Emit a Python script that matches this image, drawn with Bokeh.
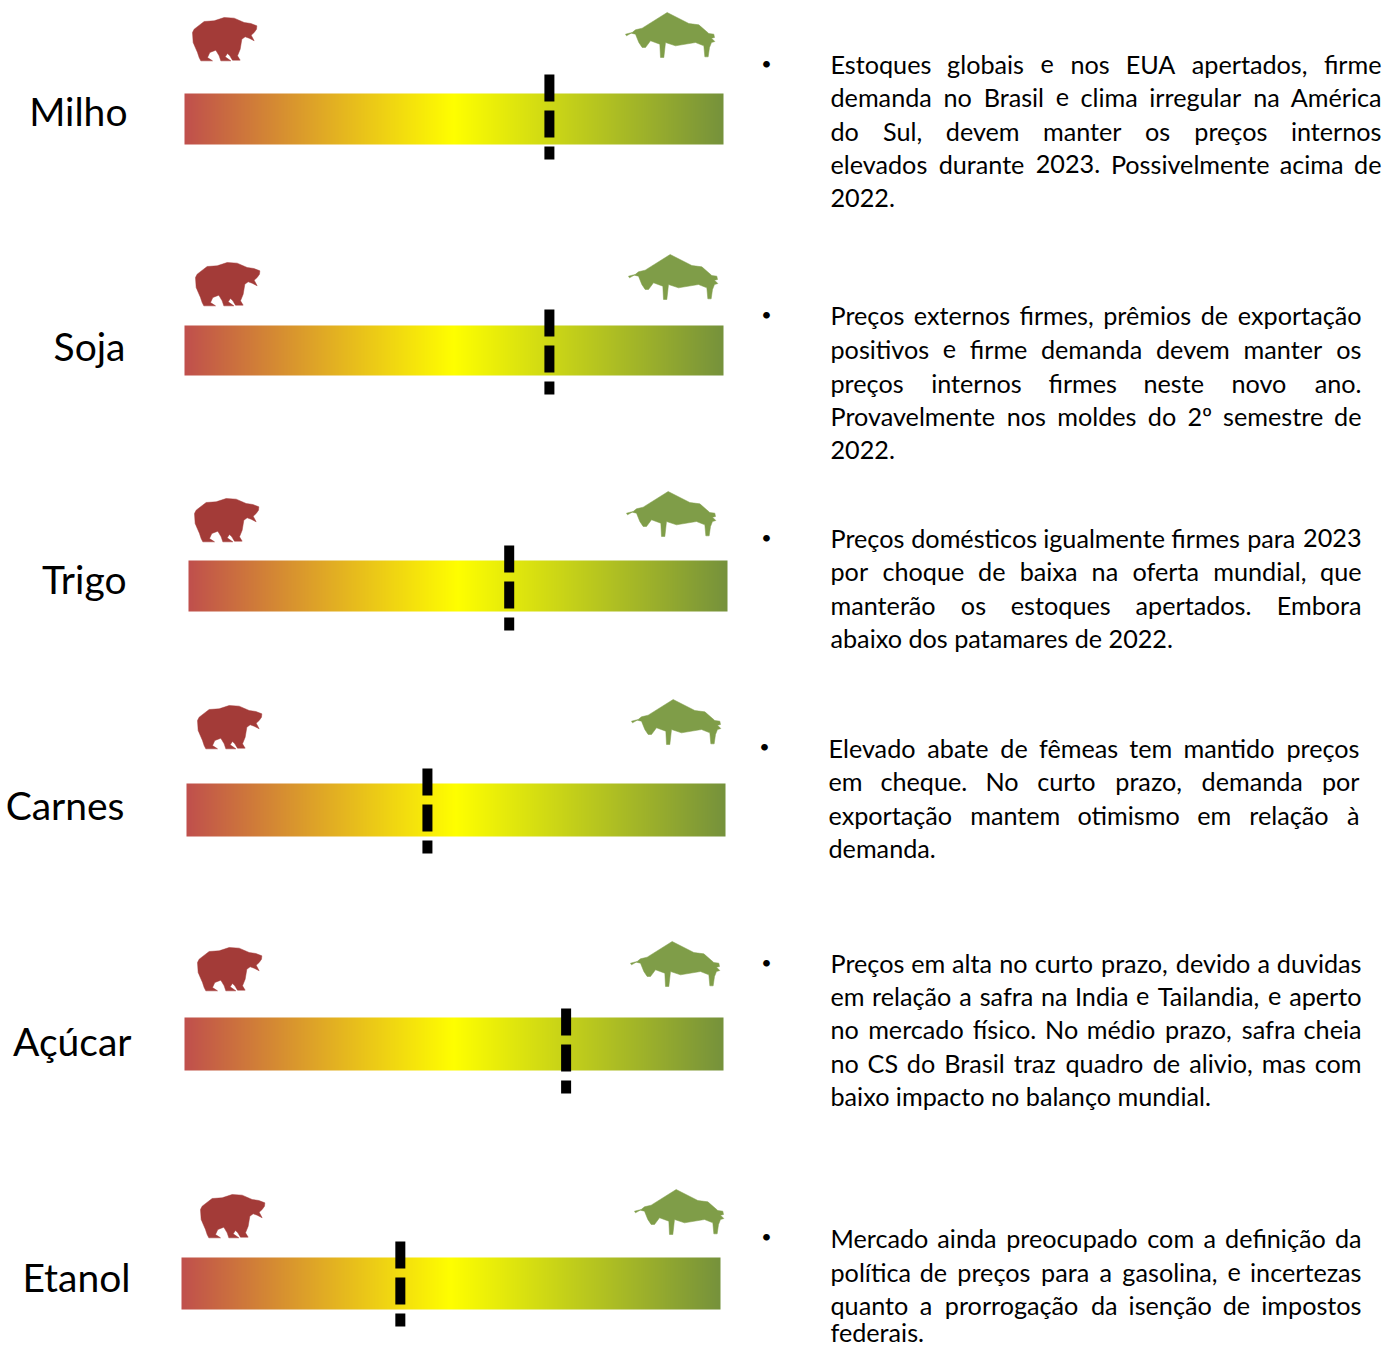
from bokeh.core.properties import value
from bokeh.embed import file_html
from bokeh.models import Range1d
from bokeh.plotting import figure
from bokeh.resources import INLINE
import numpy as np

# ---- content -------------------------------------------------------------
categories = ["Milho", "Soja", "Trigo", "Carnes", "Açúcar", "Etanol"]
sentiment = [0.677, 0.677, 0.595, 0.447, 0.708, 0.406]   # 0 = bear, 1 = bull
commentary = [
    ["Estoques globais e nos EUA apertados, firme",
     "demanda no Brasil e clima irregular na América",
     "do Sul, devem manter os preços internos",
     "elevados durante 2023. Possivelmente acima de",
     "2022."],
    ["Preços externos firmes, prêmios de exportação",
     "positivos e firme demanda devem manter os",
     "preços internos firmes neste novo ano.",
     "Provavelmente nos moldes do 2º semestre de",
     "2022."],
    ["Preços domésticos igualmente firmes para 2023",
     "por choque de baixa na oferta mundial, que",
     "manterão os estoques apertados. Embora",
     "abaixo dos patamares de 2022."],
    ["Elevado abate de fêmeas tem mantido preços",
     "em cheque. No curto prazo, demanda por",
     "exportação mantem otimismo em relação à",
     "demanda."],
    ["Preços em alta no curto prazo, devido a duvidas",
     "em relação a safra na India e Tailandia, e aperto",
     "no mercado físico. No médio prazo, safra cheia",
     "no CS do Brasil traz quadro de alivio, mas com",
     "baixo impacto no balanço mundial."],
    ["Mercado ainda preocupado com a definição da",
     "política de preços para a gasolina, e incertezas",
     "quanto a prorrogação da isenção de impostos",
     "federais."],
]

# ---- layout (page pixels) ---------------------------------------------------
bar_left = [184, 184, 188, 186, 184, 181]
bar_top = [93, 325, 560, 783, 1017, 1257]
bar_bottom = [144, 375, 611, 836, 1070, 1309]
bar_width = 539
marker_top = [74, 309, 545, 768, 1008, 1241]
marker_len = 85
label_right = [127, 125, 126, 124, 131, 130]
label_y = [110, 345, 578, 804, 1040, 1276]
bear_xy = [(192, 17), (195, 262), (194, 498), (197, 705), (197, 947), (200, 1194)]
bull_xy = [(625, 12), (628, 254), (626, 491), (631, 699), (630, 941), (634, 1189)]
bullet_xy = [(766, 62), (766, 313), (766, 536), (764, 745), (766, 961), (766, 1235)]
text_left = [830, 830, 830, 828, 830, 830]
text_right = [1381, 1361, 1361, 1359, 1361, 1361]
text_y = [[63, 96, 130, 163, 197], [314, 348, 382, 415, 449], [537, 570, 604, 637],
         [747, 780, 814, 847], [962, 995, 1028, 1062, 1095], [1237, 1271, 1304, 1331]]

RED, YEL, GRN = (192, 80, 77), (255, 255, 0), (118, 146, 60)
BEAR_COLOR, BULL_COLOR = "#A33B38", "#7F9D48"
TEXT_FONT = "Lato"
BODY_PX = 25.2
LABEL_PX = 39.0

# icon outlines, relative to their top-left corner (3x-scaled units)
bear_shape = [(70, 95), (75, 85), (105, 62), (135, 60), (165, 50), (195, 52), (225, 65), (245, 68),
              (263, 75), (262, 85), (255, 95), (246, 103), (255, 120), (240, 112), (228, 108),
              (218, 115), (213, 145), (205, 165), (213, 178), (190, 178), (182, 165), (175, 158),
              (168, 168), (185, 180), (155, 180), (150, 165), (140, 148), (122, 155), (115, 170),
              (130, 180), (95, 180), (90, 170), (85, 155), (72, 125)]
bull_shape = [(45, 100), (65, 95), (75, 87), (95, 82), (170, 35), (235, 68), (265, 72), (295, 98),
              (310, 100), (312, 110), (303, 112), (313, 122), (303, 125), (297, 140), (293, 168),
              (283, 168), (280, 135), (255, 125), (195, 135), (165, 125), (160, 170), (150, 170),
              (148, 130), (120, 120), (105, 140), (95, 140), (85, 125), (75, 100), (62, 97), (48, 105)]

# approximate advance widths of the text face, in em
ADV = {"a": .50, "b": .56, "c": .46, "ç": .46, "d": .56, "e": .52, "f": .33, "g": .51, "h": .55,
       "i": .23, "í": .23, "j": .24, "k": .51, "l": .23, "m": .81, "n": .55, "o": .58, "p": .56,
       "q": .56, "r": .37, "s": .43, "t": .35, "u": .55, "v": .51, "w": .77, "x": .50, "y": .51,
       "z": .46, "é": .52, "ê": .52, "á": .50, "à": .50, "ã": .50, "õ": .58, "ó": .58, "ú": .55,
       ".": .25, ",": .25, "º": .38, "E": .55, "M": .88, "N": .72, "P": .57, "C": .64, "U": .70,
       "A": .67, "S": .53, "B": .62, "T": .55, "I": .26}


def word_w(word):
    return sum(ADV.get(ch, .58) for ch in word) * BODY_PX


W, H = 1395, 1347
p = figure(width=W, height=H, output_backend="svg", toolbar_location=None,
           x_range=Range1d(0, W), y_range=Range1d(H, 0), min_border=0)
p.axis.visible = False
p.grid.visible = False
p.outline_line_color = None

ramp = np.linspace(0, 1, bar_width)
stops = np.array([RED, YEL, GRN], dtype=float)
rgba = np.zeros((1, bar_width), dtype=np.uint32)
view = rgba.view(np.uint8).reshape((1, bar_width, 4))
for c in range(3):
    view[0, :, c] = np.interp(ramp, [0, .5, 1], stops[:, c]).astype(np.uint8)
view[0, :, 3] = 255

for i, name in enumerate(categories):
    p.image_rgba(image=[rgba], x=bar_left[i], y=bar_top[i], dw=bar_width,
                 dh=bar_bottom[i] - bar_top[i])
    mx = bar_left[i] + sentiment[i] * bar_width
    p.line([mx, mx], [marker_top[i], marker_top[i] + marker_len], line_color="black",
           line_width=10, line_dash="27 9", line_cap="butt")
    bx, by = bear_xy[i]
    p.patch([bx + (u - 70) / 3 for u, v in bear_shape], [by + (v - 50) / 3 for u, v in bear_shape],
            fill_color=BEAR_COLOR, line_color=BEAR_COLOR, line_width=0.5)
    bx, by = bull_xy[i]
    p.patch([bx + (u - 45) / 3 for u, v in bull_shape], [by + (v - 35) / 3 for u, v in bull_shape],
            fill_color=BULL_COLOR, line_color=BULL_COLOR, line_width=0.5)
    p.text([label_right[i]], [label_y[i]], text=[name], text_font=value(TEXT_FONT),
           text_font_size=f"{LABEL_PX}px", text_align="right", text_baseline="middle",
           text_color="black")
    p.text([bullet_xy[i][0]], [bullet_xy[i][1]], text=["•"], text_font=value(TEXT_FONT),
           text_font_size="18px", text_align="center", text_baseline="middle", text_color="black")

    xs, ys, words, aligns = [], [], [], []
    lines = commentary[i]
    for j, line in enumerate(lines):
        parts = line.split(" ")
        if j == len(lines) - 1 or len(parts) == 1:
            xs.append(text_left[i]); ys.append(text_y[i][j]); words.append(line); aligns.append("left")
            continue
        widths = [word_w(w) for w in parts]
        span = text_right[i] - text_left[i]
        gap = (span - sum(widths)) / (len(parts) - 1)
        x = text_left[i]
        for k, w in enumerate(parts):
            if k == 0:
                xs.append(text_left[i]); aligns.append("left")
            elif k == len(parts) - 1:
                xs.append(text_right[i]); aligns.append("right")
            else:
                xs.append(x + widths[k] / 2); aligns.append("center")
            ys.append(text_y[i][j]); words.append(w)
            x += widths[k] + gap
    p.text(xs, ys, text=words, text_font=value(TEXT_FONT), text_font_size=f"{BODY_PX}px",
           text_align=aligns, text_baseline="middle", text_color="#000000")

open("out.html", "w").write(file_html(p, INLINE))
